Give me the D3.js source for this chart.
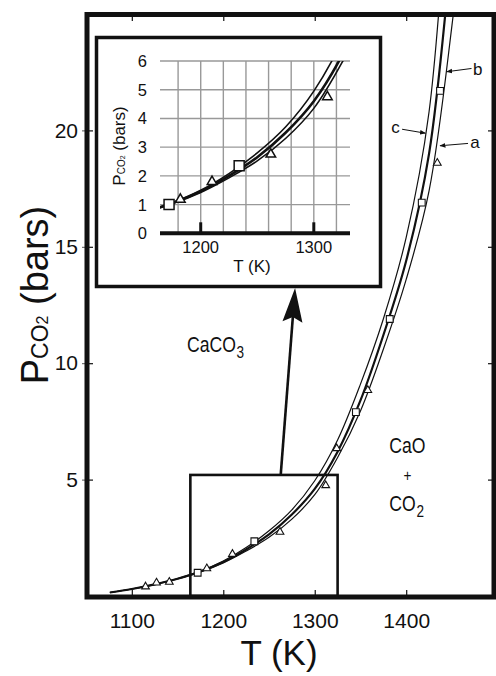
<!DOCTYPE html>
<html>
<head>
<meta charset="utf-8">
<script src="https://cdn.jsdelivr.net/npm/d3@7"></script>
<style>
  body { margin: 0; background: #fff; }
  svg { display: block; }
  text { font-family: Arial, "Liberation Sans", sans-serif; fill: #111; }
</style>
</head>
<body>
<svg id="chart" width="496" height="676"></svg>
<script>
// curve readings (T in K, P in bars)
const curveT = [1076, 1100, 1125, 1150, 1175, 1200, 1225, 1250, 1275, 1300, 1325, 1350, 1375, 1400, 1425, 1450, 1465];
const curveA = [0.15, 0.30, 0.49, 0.73, 1.03, 1.42, 1.93, 2.52, 3.30, 4.35, 5.95, 7.95, 10.6, 13.6, 17.4, 24.5, 30];
const curveB = [0.15, 0.30, 0.50, 0.74, 1.05, 1.46, 2.00, 2.65, 3.50, 4.60, 6.20, 8.40, 11.2, 14.4, 19.0, 28, 35];
const curveC = [0.15, 0.30, 0.50, 0.75, 1.07, 1.50, 2.08, 2.80, 3.70, 4.95, 6.70, 9.10, 11.9, 15.4, 20.8, 33, 42];

// measured points
const triT = [1115, 1127, 1141, 1182, 1210, 1262, 1312, 1324, 1358, 1434];
const triP = [0.40, 0.57, 0.60, 1.18, 1.80, 2.75, 4.75, 6.34, 8.84, 18.6];
const sqT = [1172, 1234, 1345, 1382, 1417, 1437];
const sqP = [1.00, 2.35, 7.90, 11.9, 16.9, 21.7];

const xTicks = [1100, 1200, 1300, 1400];
const yTicks = [5, 10, 15, 20];
const insetXTicks = [1200, 1300];
const insetYTicks = [0, 1, 2, 3, 4, 5, 6];
const insetXGrid = [1180, 1200, 1220, 1240, 1260, 1280, 1300, 1320];

const svg = d3.select("#chart");

const x = d3.scaleLinear().domain([1051, 1496]).range([87, 494]);
const y = d3.scaleLinear().domain([0, 25]).range([596, 14]);

const curves = [
    { name: "c", P: curveC, w: 1.2 },
    { name: "b", P: curveB, w: 2.2 },
    { name: "a", P: curveA, w: 1.2 }
];
const tri = triT.map((t, i) => ({ T: t, P: triP[i] }));
const sq = sqT.map((t, i) => ({ T: t, P: sqP[i] }));

const defs = svg.append("defs");
defs.append("clipPath").attr("id", "mainClip")
    .append("rect").attr("x", 90).attr("y", 17).attr("width", 401).attr("height", 577);
defs.append("marker").attr("id", "tip")
    .attr("viewBox", "0 0 10 10").attr("refX", 9).attr("refY", 5)
    .attr("markerWidth", 6).attr("markerHeight", 6).attr("orient", "auto")
    .append("path").attr("d", "M0,1 L10,5 L0,9 Z").attr("fill", "#111");

// main curves
const line = d3.line().x(d => x(d[0])).y(d => y(d[1])).curve(d3.curveCatmullRom.alpha(0.5));
const gMain = svg.append("g").attr("clip-path", "url(#mainClip)");
gMain.selectAll("path.curve")
    .data(curves)
    .enter().append("path")
    .attr("class", "curve")
    .attr("d", d => line(curveT.map((t, i) => [t, d.P[i]])))
    .attr("fill", "none")
    .attr("stroke", "#111")
    .attr("stroke-width", d => d.w);

// main points
gMain.selectAll("path.tri")
    .data(tri)
    .enter().append("path")
    .attr("class", "tri")
    .attr("d", d3.symbol(d3.symbolTriangle, 26))
    .attr("transform", d => `translate(${x(d.T)},${y(d.P)})`)
    .attr("fill", "#fff").attr("stroke", "#111").attr("stroke-width", 1.1);
gMain.selectAll("path.sq")
    .data(sq)
    .enter().append("path")
    .attr("class", "sq")
    .attr("d", d3.symbol(d3.symbolSquare, 46))
    .attr("transform", d => `translate(${x(d.T)},${y(d.P)})`)
    .attr("fill", "#fff").attr("stroke", "#111").attr("stroke-width", 1.1);

// zoom box on main plot
const boxT = [1164, 1325];
const boxP = [0, 5.2];
svg.append("rect")
    .attr("x", x(boxT[0])).attr("y", y(boxP[1]))
    .attr("width", x(boxT[1]) - x(boxT[0]))
    .attr("height", y(boxP[0]) - y(boxP[1]))
    .attr("fill", "none").attr("stroke", "#111").attr("stroke-width", 2.6);

// axes (ticks inward)
const axB = svg.append("g").attr("transform", "translate(0,597)")
    .call(d3.axisBottom(x).tickValues(xTicks).tickSize(-7).tickPadding(16).tickFormat(d3.format("d")));
const axT = svg.append("g").attr("transform", "translate(0,14)")
    .call(d3.axisTop(x).tickValues(xTicks).tickSize(-7).tickFormat(""));
const axL = svg.append("g").attr("transform", "translate(87,0)")
    .call(d3.axisLeft(y).tickValues(yTicks).tickSize(-6).tickPadding(9));
const axR = svg.append("g").attr("transform", "translate(494,0)")
    .call(d3.axisRight(y).tickValues(yTicks).tickSize(-6).tickFormat(""));
[axB, axT, axL, axR].forEach(g => {
    g.select(".domain").remove();
    g.selectAll(".tick line").attr("stroke", "#111").attr("stroke-width", 1.2);
    g.selectAll("text").style("font-size", "21px").attr("fill", "#111");
});
// small outer marks on the left side
axL.selectAll(".tick").append("line").attr("x1", -5).attr("x2", 0).attr("stroke", "#555").attr("stroke-width", 1);

// frame
svg.append("rect")
    .attr("x", 87).attr("y", 14.5).attr("width", 407).attr("height", 582.5)
    .attr("fill", "none").attr("stroke", "#111").attr("stroke-width", 5);

// axis titles
const yt = svg.append("text")
    .attr("transform", "translate(48,295) rotate(-90)")
    .attr("text-anchor", "middle")
    .style("font-size", "38px");
yt.append("tspan").text("P");
yt.append("tspan").style("font-size", "23px").text("CO");
yt.append("tspan").style("font-size", "16px").text("2");
yt.append("tspan").text(" (bars)");

svg.append("text")
    .attr("x", 279).attr("y", 665)
    .attr("text-anchor", "middle")
    .style("font-size", "35px")
    .text("T (K)");

// curve labels with leaders
const tags = [
    { s: "c", tx: 1393, tp: 19.9, anchor: "end", l: [[1395.5, 20.05], [1421, 19.88]] },
    { s: "b", tx: 1473, tp: 22.38, anchor: "start", l: [[1471.4, 22.66], [1444.3, 22.52]] },
    { s: "a", tx: 1470, tp: 19.23, anchor: "start", l: [[1467.6, 19.44], [1437, 19.34]] }
];
tags.forEach(t => {
    svg.append("text")
        .attr("x", x(t.tx)).attr("y", y(t.tp))
        .attr("text-anchor", t.anchor)
        .style("font-size", "17px")
        .text(t.s);
    svg.append("line")
        .attr("x1", x(t.l[0][0])).attr("y1", y(t.l[0][1]))
        .attr("x2", x(t.l[1][0])).attr("y2", y(t.l[1][1]))
        .attr("stroke", "#111").attr("stroke-width", 1)
        .attr("marker-end", "url(#tip)");
});

// phase labels (narrow lettering)
function phase(main, sub, T, P, anchor) {
    const t = svg.append("text")
        .attr("transform", `translate(${x(T)},${y(P)}) scale(0.8,1)`)
        .attr("text-anchor", anchor || "start")
        .style("font-size", "22px");
    t.append("tspan").text(main);
    if (sub) t.append("tspan").attr("dx", 1).attr("dy", 6).style("font-size", "17px").text(sub);
    return t;
}
phase("CaCO", "3", 1160.3, 10.48);
phase("CaO", "", 1381.5, 6.16);
phase("+", "", 1401.4, 4.95, "middle").style("font-size", "17px");
phase("CO", "2", 1381.5, 3.65);

// ---------- inset ----------
svg.append("rect")
    .attr("x", 96.5).attr("y", 37.5).attr("width", 284).attr("height", 249)
    .attr("fill", "#fff").attr("stroke", "#111").attr("stroke-width", 3.5);

const xi = d3.scaleLinear().domain([1164, 1332]).range([160, 350]);
const yi = d3.scaleLinear().domain([0, 6]).range([233.3, 61]);

defs.append("clipPath").attr("id", "insetClip")
    .append("rect").attr("x", 160).attr("y", 61).attr("width", 190).attr("height", 172);

const gi = svg.append("g");
gi.selectAll("line.hg")
    .data(insetYTicks.filter(v => v > 0))
    .enter().append("line")
    .attr("x1", xi.range()[0]).attr("x2", xi.range()[1])
    .attr("y1", d => yi(d)).attr("y2", d => yi(d))
    .attr("stroke", "#999").attr("stroke-width", 1.4);
gi.selectAll("line.vg")
    .data(insetXGrid)
    .enter().append("line")
    .attr("x1", d => xi(d)).attr("x2", d => xi(d))
    .attr("y1", yi(0)).attr("y2", yi(6))
    .attr("stroke", "#999").attr("stroke-width", 1.4);

const lineI = d3.line().x(d => xi(d[0])).y(d => yi(d[1])).curve(d3.curveCatmullRom.alpha(0.5));
const gic = gi.append("g").attr("clip-path", "url(#insetClip)");
gic.selectAll("path.curve")
    .data(curves)
    .enter().append("path")
    .attr("d", d => lineI(curveT.map((t, i) => [t, d.P[i]])))
    .attr("fill", "none").attr("stroke", "#111")
    .attr("stroke-width", d => d.w + 0.4);
const inIn = d => d.T >= xi.domain()[0] && d.T <= xi.domain()[1] && d.P <= 6;
gic.selectAll("path.tri")
    .data(tri.filter(inIn))
    .enter().append("path")
    .attr("d", d3.symbol(d3.symbolTriangle, 40))
    .attr("transform", d => `translate(${xi(d.T)},${yi(d.P)})`)
    .attr("fill", "#fff").attr("stroke", "#111").attr("stroke-width", 1.5);
gic.selectAll("path.sq")
    .data(sq.filter(inIn))
    .enter().append("path")
    .attr("d", d3.symbol(d3.symbolSquare, 100))
    .attr("transform", d => `translate(${xi(d.T)},${yi(d.P)})`)
    .attr("fill", "#fff").attr("stroke", "#111").attr("stroke-width", 1.5);

// inset axis
gi.append("line")
    .attr("x1", xi.range()[0]).attr("x2", xi.range()[1])
    .attr("y1", yi(0)).attr("y2", yi(0))
    .attr("stroke", "#111").attr("stroke-width", 4);
gi.selectAll("line.tk")
    .data(insetXTicks)
    .enter().append("line")
    .attr("x1", d => xi(d)).attr("x2", d => xi(d))
    .attr("y1", yi(0)).attr("y2", yi(0) - 11)
    .attr("stroke", "#111").attr("stroke-width", 3);
gi.selectAll("text.xl")
    .data(insetXTicks)
    .enter().append("text")
    .attr("x", d => xi(d)).attr("y", 252.5)
    .attr("text-anchor", "middle")
    .style("font-size", "16.5px")
    .text(d => d);
gi.selectAll("text.yl")
    .data(insetYTicks)
    .enter().append("text")
    .attr("x", 147).attr("y", d => yi(d))
    .attr("dy", "0.36em")
    .attr("text-anchor", "end")
    .style("font-size", "16.5px")
    .text(d => d);
gi.append("text")
    .attr("x", 252).attr("y", 272)
    .attr("text-anchor", "middle")
    .style("font-size", "17px")
    .text("T (K)");
const yti = gi.append("text")
    .attr("transform", "translate(125,146) rotate(-90)")
    .attr("text-anchor", "middle")
    .style("font-size", "17px");
yti.append("tspan").text("P");
yti.append("tspan").style("font-size", "10px").text("CO");
yti.append("tspan").style("font-size", "7px").text("2");
yti.append("tspan").text(" (bars)");

// arrow from zoom box to inset
const arrowFrom = [1262.8, 5.2];
const arrowTo = [1278.5, 13.23];
const ax0 = x(arrowFrom[0]), ay0 = y(arrowFrom[1]);
const ax1 = x(arrowTo[0]), ay1 = y(arrowTo[1]);
const len = Math.hypot(ax1 - ax0, ay1 - ay0);
const ux = (ax1 - ax0) / len, uy = (ay1 - ay0) / len;
const hl = 34, hw = 10, notch = 5;
const bx = ax1 - ux * hl, by = ay1 - uy * hl;
svg.append("line")
    .attr("x1", ax0).attr("y1", ay0)
    .attr("x2", bx + ux * notch).attr("y2", by + uy * notch)
    .attr("stroke", "#111").attr("stroke-width", 2.6);
svg.append("path")
    .attr("d", `M${ax1},${ay1} L${bx - uy * hw},${by + ux * hw} L${bx + ux * notch},${by + uy * notch} L${bx + uy * hw},${by - ux * hw} Z`)
    .attr("fill", "#111");
</script>
</body>
</html>
